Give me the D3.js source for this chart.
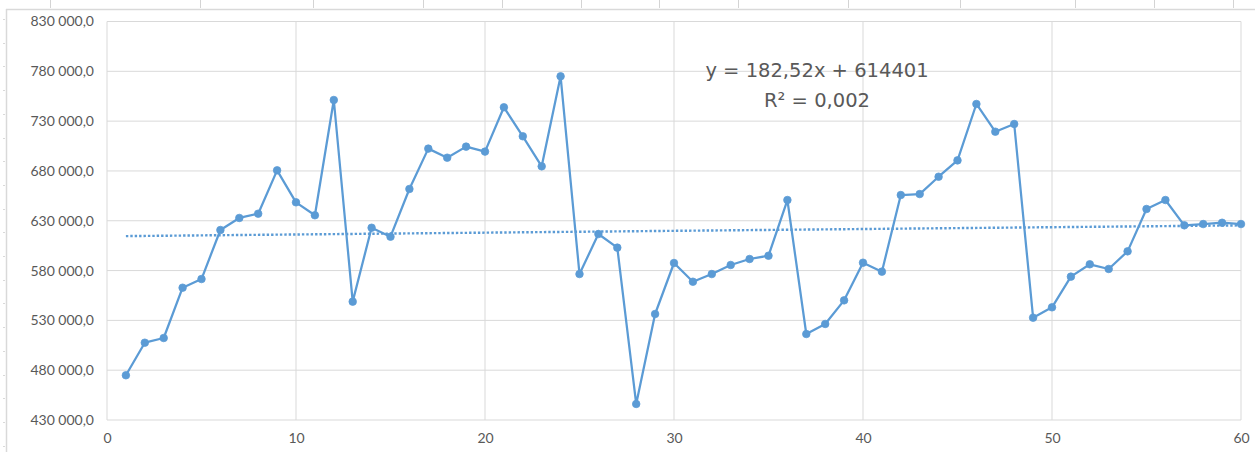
<!DOCTYPE html>
<html>
<head>
<meta charset="utf-8">
<script src="https://cdn.jsdelivr.net/npm/d3@7"></script>
<style>
  html, body { margin: 0; padding: 0; background: #fff; }
  svg { display: block; }
  text { font-family: Lato, "Open Sans", sans-serif; fill: #595959; }
</style>
</head>
<body>
<svg id="chart" width="1255" height="452"></svg>
<script>
// ---- data ----
const periods = d3.range(1, 61);
const values = [
  474900, 507600, 512300, 562800, 571500, 620700, 632800, 637100, 680600, 648500,
  635500, 751200, 548800, 623000, 614000, 661900, 702400, 693300, 704400, 699400,
  743900, 714800, 684600, 775000, 576500, 616700, 603000, 446100, 536400, 587600,
  568800, 576500, 585600, 591600, 594900, 650800, 516300, 526400, 550100, 587900,
  578900, 655800, 656800, 674200, 690600, 747200, 719400, 727100, 532700, 543100,
  573900, 586300, 581600, 599300, 641800, 650800, 625400, 626700, 628000, 626700
];
const xTicks = [0, 10, 20, 30, 40, 50, 60];
const yTicks = [430000, 480000, 530000, 580000, 630000, 680000, 730000, 780000, 830000];
const trendSlope = 182.52;
const trendIntercept = 614401;
const equationText = "y = 182,52x + 614401";
const r2Text = "R² = 0,002";

// ---- layout ----
const svg = d3.select("#chart");
const W = 1255, H = 452;
const plot = { left: 107, right: 1241, top: 21.5, bottom: 420 };
const x = d3.scaleLinear().domain([0, 60]).range([plot.left, plot.right]);
const y = d3.scaleLinear().domain([430000, 830000]).range([plot.bottom, plot.top]);

const locale = d3.formatLocale({ decimal: ",", thousands: " ", grouping: [3], currency: ["", ""] });
const fmt = locale.format(",.1f");

// spreadsheet frame decoration
const deco = svg.append("g");
const colSeps = [50, 200, 313, 423, 502, 581, 659, 738, 848, 960, 1075, 1154, 1233];
deco.selectAll("line.col").data(colSeps).join("line")
  .attr("x1", d => d + 0.5).attr("x2", d => d + 0.5).attr("y1", 0).attr("y2", 8)
  .attr("stroke", "#d4d4d4").attr("stroke-width", 1);
deco.append("line").attr("x1", 6).attr("x2", W).attr("y1", 9.5).attr("y2", 9.5)
  .attr("stroke", "#d9d9d9").attr("stroke-width", 1.5);
deco.append("line").attr("x1", 6.5).attr("x2", 6.5).attr("y1", 9).attr("y2", H)
  .attr("stroke", "#d9d9d9").attr("stroke-width", 1.5);
deco.selectAll("line.row").data(d3.range(19, H, 23.7)).join("line")
  .attr("x1", 3).attr("x2", 5).attr("y1", d => Math.round(d) + 0.5).attr("y2", d => Math.round(d) + 0.5)
  .attr("stroke", "#d9d9d9").attr("stroke-width", 1);

// gridlines
const grid = svg.append("g");
grid.selectAll("line.h").data(yTicks).join("line")
  .attr("x1", plot.left).attr("x2", plot.right)
  .attr("y1", d => y(d)).attr("y2", d => y(d))
  .attr("stroke", "#d9d9d9").attr("stroke-width", 1);
grid.selectAll("line.v").data(xTicks).join("line")
  .attr("x1", d => x(d)).attr("x2", d => x(d))
  .attr("y1", plot.top).attr("y2", plot.bottom)
  .attr("stroke", "#d9d9d9").attr("stroke-width", 1);

// axes via d3 axis
const yAxis = svg.append("g").attr("transform", `translate(${plot.left - 13},0)`)
  .call(d3.axisLeft(y).tickValues(yTicks).tickFormat(fmt).tickSize(0).tickPadding(0));
yAxis.select(".domain").remove();
yAxis.selectAll("text").style("font-size", "14px").attr("fill", "#595959")
  .style("font-family", "Lato, 'Open Sans', sans-serif");

const xAxis = svg.append("g").attr("transform", `translate(0,${plot.bottom + 13})`)
  .call(d3.axisBottom(x).tickValues(xTicks).tickFormat(d3.format("d")).tickSize(0).tickPadding(0));
xAxis.select(".domain").remove();
xAxis.selectAll("text").style("font-size", "14px").attr("fill", "#595959")
  .style("font-family", "Lato, 'Open Sans', sans-serif");

// series line
const color = "#5b9bd5";
const pts = periods.map((p, i) => [p, values[i]]);
svg.append("path").datum(pts)
  .attr("fill", "none").attr("stroke", color).attr("stroke-width", 2.25)
  .attr("stroke-linejoin", "round")
  .attr("d", d3.line().x(d => x(d[0])).y(d => y(d[1])));

svg.append("g").selectAll("circle").data(pts).join("circle")
  .attr("cx", d => x(d[0])).attr("cy", d => y(d[1])).attr("r", 3.8)
  .attr("fill", color).attr("stroke", color).attr("stroke-width", 0.75);

// trendline (dotted)
const tr = [1, 60].map(p => [p, trendSlope * p + trendIntercept]);
svg.append("path").datum(tr)
  .attr("fill", "none").attr("stroke", color).attr("stroke-width", 2.4)
  .attr("stroke-dasharray", "2.4,2")
  .attr("d", d3.line().x(d => x(d[0])).y(d => y(d[1])));

// equation label
const eq = svg.append("g").attr("text-anchor", "middle")
  .style("font-family", "'DejaVu Sans', sans-serif");
eq.append("text").attr("x", 817).attr("y", 77).style("font-size", "19.5px")
  .style("font-family", "'DejaVu Sans', sans-serif").text(equationText);
eq.append("text").attr("x", 817).attr("y", 107).style("font-size", "19.5px")
  .style("font-family", "'DejaVu Sans', sans-serif").text(r2Text);
</script>
</body>
</html>
